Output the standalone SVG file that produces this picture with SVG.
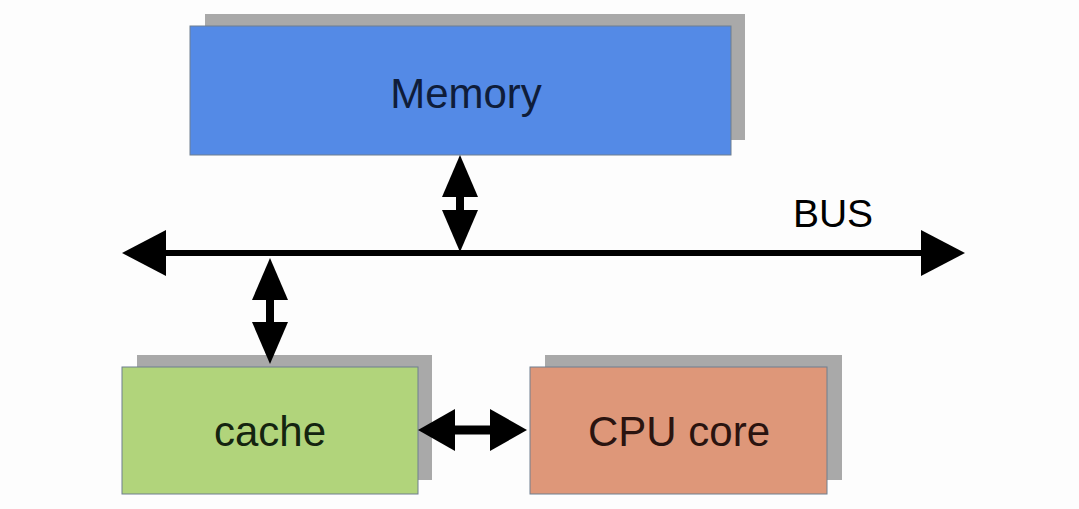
<svg xmlns="http://www.w3.org/2000/svg" width="1079" height="509" viewBox="0 0 1079 509">
<style>
.shadow{fill:#a9a9a9}
.box{stroke:#6f7f8f;stroke-width:1}
.lbl{font-family:"Liberation Sans",Arial,Helvetica,sans-serif;font-size:42px;text-anchor:middle}
.conn{stroke:#000;fill:none}
</style>
<defs>
<marker id="bighead" markerUnits="userSpaceOnUse" markerWidth="44" markerHeight="46" refX="0" refY="23" orient="auto-start-reverse" overflow="visible">
<path d="M0,0 L44,23 L0,46 z" fill="#000"/>
</marker>
<marker id="vhead" markerUnits="userSpaceOnUse" markerWidth="42" markerHeight="36" refX="0" refY="18" orient="auto-start-reverse" overflow="visible">
<path d="M0,0 L42,18 L0,36 z" fill="#000"/>
</marker>
<marker id="hhead" markerUnits="userSpaceOnUse" markerWidth="37" markerHeight="42" refX="0" refY="21" orient="auto-start-reverse" overflow="visible">
<path d="M0,0 L37,21 L0,42 z" fill="#000"/>
</marker>
</defs>
<rect width="1079" height="509" fill="#fdfdfd"/>
<g id="memory">
<rect class="shadow" x="205" y="14" width="540" height="126"/>
<rect class="box" x="190" y="26" width="541" height="129" fill="#548ae6"/>
<text class="lbl" x="466" y="108" fill="#0f1d3a">Memory</text>
</g>
<g id="cache">
<rect class="shadow" x="137" y="355" width="295" height="125"/>
<rect class="box" x="122" y="367" width="296" height="127" fill="#b1d47b"/>
<text class="lbl" x="270" y="446" fill="#142410">cache</text>
</g>
<g id="cpu">
<rect class="shadow" x="545" y="355" width="297" height="125"/>
<rect class="box" x="530" y="367" width="297" height="127" fill="#de9779"/>
<text class="lbl" x="679" y="446" fill="#2a1410">CPU core</text>
</g>
<g id="bus-label">
<text x="833" y="227" font-family="Liberation Sans, Arial, sans-serif" font-size="39" text-anchor="middle" fill="#000">BUS</text>
</g>
<g id="connectors">
<path class="conn" d="M166,253 L921,253" stroke-width="6" marker-start="url(#bighead)" marker-end="url(#bighead)"/>
<path class="conn" d="M460,197 L460,210" stroke-width="8" marker-start="url(#vhead)" marker-end="url(#vhead)"/>
<path class="conn" d="M270,300 L270,322" stroke-width="8" marker-start="url(#vhead)" marker-end="url(#vhead)"/>
<path class="conn" d="M455,430 L490,430" stroke-width="9" marker-start="url(#hhead)" marker-end="url(#hhead)"/>
</g>
</svg>
